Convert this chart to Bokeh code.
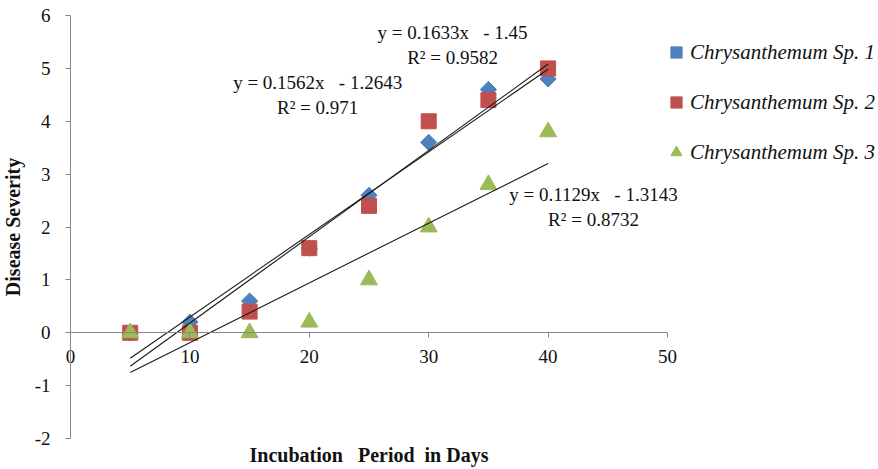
import numpy as np
from bokeh.plotting import figure
from bokeh.models import Range1d, LinearAxis, FixedTicker, Legend, LegendItem, Label
from bokeh.embed import file_html
from bokeh.resources import INLINE

# ---- data ----
days = [5, 10, 15, 20, 25, 30, 35, 40]
sp1 = [0, 0.2, 0.6, 1.6, 2.6, 3.6, 4.6, 4.8]
sp2 = [0, 0, 0.4, 1.6, 2.4, 4.0, 4.4, 5.0]
sp3 = [0, 0, 0, 0.2, 1.0, 2.0, 2.8, 3.8]
series_names = ["Chrysanthemum Sp. 1", "Chrysanthemum Sp. 2", "Chrysanthemum Sp. 3"]
slopes = [0.1562, 0.1633, 0.1129]
intercepts = [-1.2643, -1.45, -1.3143]
r_squared = ["0.971", "0.9582", "0.8732"]
x_ticks = [0, 10, 20, 30, 40, 50]
y_ticks = [-2, -1, 0, 1, 2, 3, 4, 5, 6]
x_title = "Incubation\u00a0\u00a0\u00a0Period\u00a0\u00a0in Days"
y_title = "Disease Severity"

# ---- style / layout ----
colors = ["#4F81BD", "#C0504D", "#9BBB59"]
eq_pos = [(20.7, 4.74), (32.0, 5.68), (43.8, 2.62)]
line_gap = 0.48
x_title_pos = (25.0, -2.32)
FONT = "Liberation Serif"
AXIS_COLOR = "#868686"
TXT = "#111111"

W, H = 878, 469
p = figure(width=W, height=H, x_range=Range1d(-5.863, 67.67), y_range=Range1d(-2.586, 6.284),
           output_backend="svg", toolbar_location=None,
           x_axis_location=None, y_axis_location=None, min_border=0)
p.outline_line_color = None
p.background_fill_color = "white"
p.border_fill_color = "white"
p.xgrid.visible = False
p.ygrid.visible = False

yaxis = LinearAxis(ticker=FixedTicker(ticks=y_ticks), fixed_location=0, bounds=(-2, 6),
                   axis_label=y_title)
xaxis = LinearAxis(ticker=FixedTicker(ticks=x_ticks), fixed_location=0, bounds=(0, 50))
for ax in (xaxis, yaxis):
    ax.axis_line_color = AXIS_COLOR
    ax.major_tick_line_color = AXIS_COLOR
    ax.minor_tick_line_color = None
    ax.major_tick_in = 0
    ax.major_tick_out = 5
    ax.major_label_text_font = FONT
    ax.major_label_text_font_size = "19px"
    ax.major_label_text_color = TXT
yaxis.major_label_overrides = {t: str(t) for t in y_ticks}
xaxis.major_label_standoff = 12
yaxis.major_label_standoff = 15
yaxis.axis_label_text_font = FONT
yaxis.axis_label_text_font_style = "bold"
yaxis.axis_label_text_font_size = "20px"
yaxis.axis_label_text_color = TXT
yaxis.axis_label_standoff = 8
p.add_layout(yaxis, "left")
p.add_layout(xaxis, "below")

p.add_layout(Label(x=x_title_pos[0], y=x_title_pos[1], text=x_title, text_align="center",
                   text_baseline="middle", text_font=FONT, text_font_style="bold",
                   text_font_size="20px", text_color=TXT))

r1 = p.scatter(days, sp1, marker="square", angle=np.pi / 4, size=11.5,
               fill_color=colors[0], line_color=colors[0])
r2 = p.scatter(days, sp2, marker="square", size=15, fill_color=colors[1], line_color=colors[1])
r3 = p.scatter(days, sp3, marker="triangle", size=17, fill_color=colors[2], line_color=colors[2])

# trendlines
for m, b in zip(slopes, intercepts):
    xs = np.array([days[0], days[-1]], dtype=float)
    p.line(xs, m * xs + b, line_color="#1a1a1a", line_width=1.1)

# equations
for (px, py), m, b, r2v in zip(eq_pos, slopes, intercepts, r_squared):
    p.add_layout(Label(x=px, y=py, text=f"y = {m}x\u00a0\u00a0\u00a0- {abs(b)}", text_align="center",
                       text_baseline="middle", text_font=FONT, text_font_size="19px",
                       text_color=TXT))
    p.add_layout(Label(x=px, y=py - line_gap, text=f"R\u00b2 = {r2v}", text_align="center",
                       text_baseline="middle", text_font=FONT, text_font_size="19px",
                       text_color=TXT))

legend = Legend(items=[LegendItem(label=n, renderers=[r]) for n, r in zip(series_names, [r1, r2, r3])],
                location=(662, 303), margin=0, padding=0, spacing=22,
                glyph_width=28, glyph_height=28, label_height=20, label_standoff=0,
                label_text_font=FONT, label_text_font_style="italic", label_text_font_size="21px",
                label_text_color=TXT, border_line_color=None, background_fill_color=None)
p.add_layout(legend, "center")

open("out.html", "w").write(file_html(p, INLINE))
